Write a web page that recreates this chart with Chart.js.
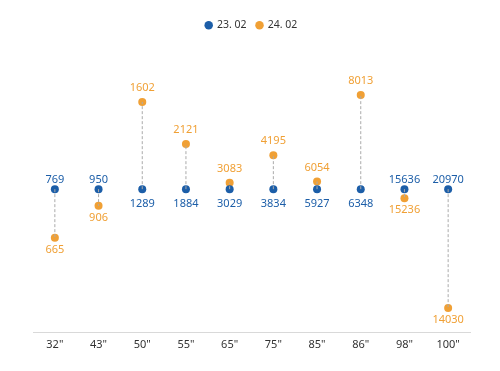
<!DOCTYPE html>
<html>
<head>
<meta charset="utf-8">
<script src="https://cdn.jsdelivr.net/npm/chart.js@4"></script>
<style>
  html, body { margin: 0; padding: 0; background: #fff; }
  #wrap { width: 500px; height: 371px; }
</style>
</head>
<body>
<div id="wrap"><canvas id="dotChart"></canvas></div>
<script>
// Data
const sizes = ['32"', '43"', '50"', '55"', '65"', '75"', '85"', '86"', '98"', '100"'];
const feb23 = [769, 950, 1289, 1884, 3029, 3834, 5927, 6348, 15636, 20970];
const feb24 = [665, 906, 1602, 2121, 3083, 4195, 6054, 8013, 15236, 14030];

const blue = '#1c5ea8';
const orange = '#f0a035';

// 23.02 is the baseline (1), 24.02 is plotted relative to it
const baseLine = feb23.map(() => 1);
const ratio = feb24.map((v, i) => v / feb23[i]);

// dashed connectors + value labels
const labelPlugin = {
    id: 'labels',
    afterDatasetsDraw(chart) {
        const c = chart.ctx;
        const a = chart.getDatasetMeta(0).data;
        const b = chart.getDatasetMeta(1).data;
        c.save();
        c.strokeStyle = '#aaaaaa';
        c.lineWidth = 1;
        c.setLineDash([3, 2]);
        a.forEach((p, i) => {
            c.beginPath();
            c.moveTo(p.x, p.y);
            c.lineTo(b[i].x, b[i].y);
            c.stroke();
        });
        c.setLineDash([]);
        c.font = '11px "Noto Sans", sans-serif';
        c.textAlign = 'center';
        c.textBaseline = 'middle';
        a.forEach((p, i) => {
            const up = ratio[i] >= 1; // orange above blue
            c.fillStyle = blue;
            c.fillText(feb23[i], p.x, up ? p.y + 15 : p.y - 9);
            c.fillStyle = orange;
            c.fillText(feb24[i], b[i].x, up ? b[i].y - 14 : b[i].y + 12);
        });
        c.restore();
    }
};

// push the plot area down under the legend
const legendSpace = {
    id: 'legendSpace',
    beforeInit(chart) {
        const fit = chart.legend.fit;
        chart.legend.fit = function () {
            fit.bind(chart.legend)();
            this.height += 5;
        };
    }
};

const ctx = document.getElementById('dotChart').getContext('2d');
new Chart(ctx, {
    type: 'line',
    data: {
        labels: sizes,
        datasets: [
            { label: '23. 02', data: baseLine, showLine: false, pointRadius: 4, pointHoverRadius: 4,
              backgroundColor: blue, borderColor: blue, pointBorderWidth: 0 },
            { label: '24. 02', data: ratio, showLine: false, pointRadius: 4, pointHoverRadius: 4,
              backgroundColor: orange, borderColor: orange, pointBorderWidth: 0 }
        ]
    },
    options: {
        responsive: true,
        maintainAspectRatio: false,
        animation: false,
        layout: { padding: { left: 33, right: 30, top: 10, bottom: 15 } },
        plugins: {
            legend: {
                position: 'top',
                labels: {
                    usePointStyle: true,
                    pointStyle: 'circle',
                    boxWidth: 6,
                    boxHeight: 6,
                    padding: 10,
                    color: '#333',
                    font: { size: 10.5, family: '"Noto Sans", sans-serif' }
                }
            },
            tooltip: { enabled: false }
        },
        scales: {
            x: {
                offset: true,
                grid: { display: false, drawTicks: false },
                border: { color: '#d9d9d9' },
                ticks: { color: '#333', padding: 5, font: { size: 11, family: '"Noto Sans", sans-serif' } }
            },
            y: {
                display: false,
                min: 0.6,
                max: 1.4
            }
        }
    },
    plugins: [labelPlugin, legendSpace]
});
</script>
</body>
</html>
